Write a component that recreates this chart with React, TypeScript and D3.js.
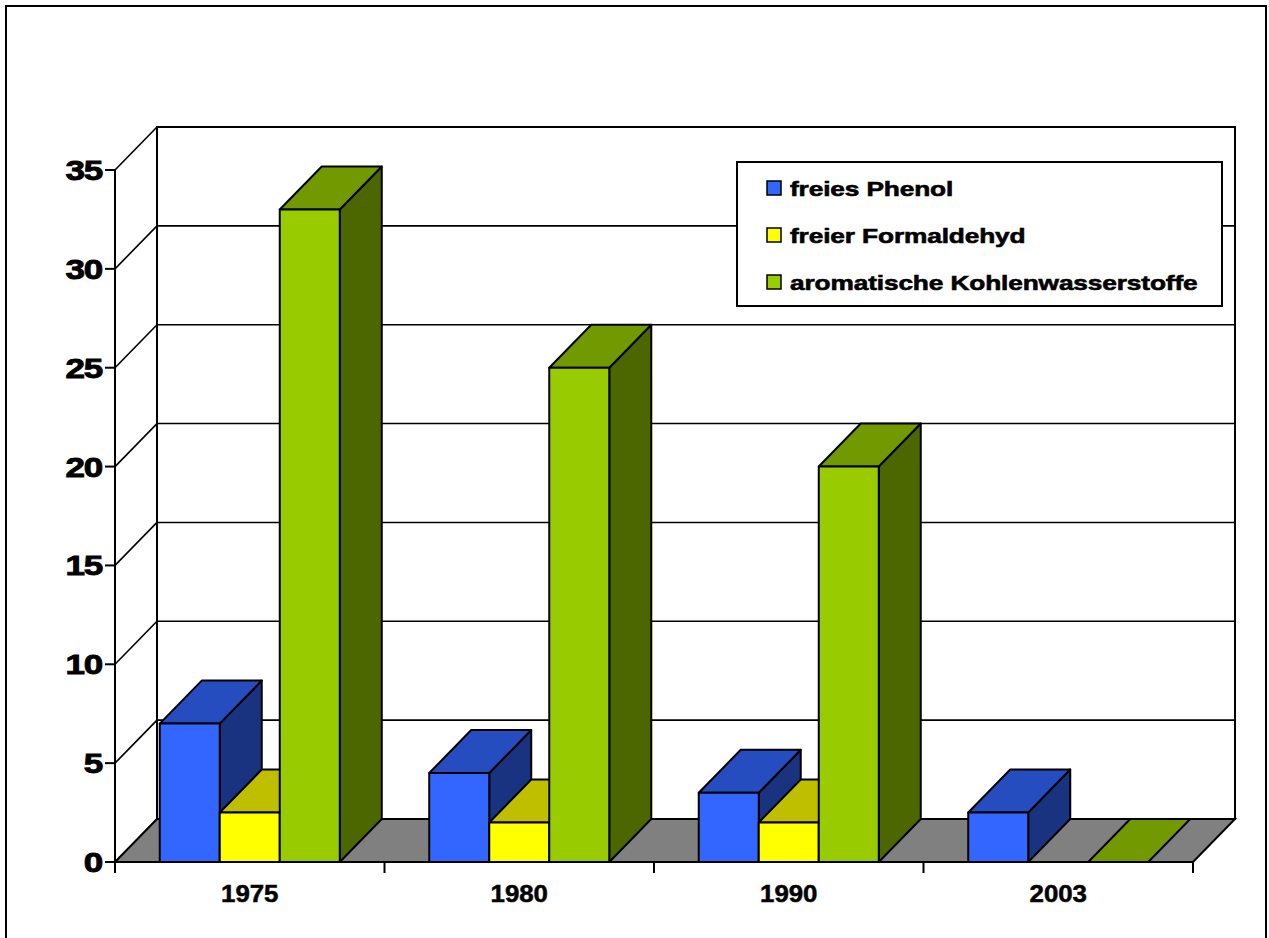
import React from 'react';
import * as d3 from 'd3';

const categories = ['1975', '1980', '1990', '2003'];
const seriesNames = ['freies Phenol', 'freier Formaldehyd', 'aromatische Kohlenwasserstoffe'];
const phenol: (number | null)[] = [7, 4.5, 3.5, 2.5];
const formaldehyd: (number | null)[] = [2.5, 2, 2, null];
const aromaten: (number | null)[] = [33, 25, 20, 0];
const yTicks = [0, 5, 10, 15, 20, 25, 30, 35];

const seriesValues = [phenol, formaldehyd, aromaten];
const frontColors = ['#3366FF', '#FFFF00', '#99CC00'];
const topColors = ['#264DBF', '#BFBF00', '#739900'];
const sideColors = ['#1A3380', '#808000', '#4C6600'];

const W = 1269;
const H = 938;
const X0 = 115;
const X1 = 1193;
const Y0 = 862;
const Y35 = 170;
const DX = 42;
const DY = 43;
const FONT = '"Liberation Sans", Arial, sans-serif';

export default function App() {
  const x = d3.scaleBand<string>().domain(categories).range([X0, X1]).padding(0);
  const y = d3.scaleLinear().domain([0, 35]).range([Y0, Y35]);
  const groupW = x.bandwidth() * 0.668;
  const inner = d3
    .scaleBand<number>()
    .domain(d3.range(seriesValues.length))
    .range([0, groupW])
    .padding(0);

  const bars: JSX.Element[] = [];
  categories.forEach((c, ci) => {
    const gx = (x(c) as number) + (x.bandwidth() - groupW) / 2;
    seriesValues.forEach((vals, si) => {
      const v = vals[ci];
      if (v === null || v === undefined) return;
      const bx = gx + (inner(si) as number);
      const bw = inner.bandwidth();
      const ty = y(v);
      const side = `M${bx + bw},${Y0} L${bx + bw + DX},${Y0 - DY} L${bx + bw + DX},${ty - DY} L${bx + bw},${ty} Z`;
      const top = `M${bx},${ty} L${bx + DX},${ty - DY} L${bx + bw + DX},${ty - DY} L${bx + bw},${ty} Z`;
      bars.push(
        <g key={`${ci}-${si}`} stroke="#000" strokeWidth={2} strokeLinejoin="round">
          {v > 0 && <path d={side} fill={sideColors[si]} />}
          <path d={top} fill={topColors[si]} />
          {v > 0 && <rect x={bx} y={ty} width={bw} height={Y0 - ty} fill={frontColors[si]} />}
        </g>
      );
    });
  });

  const xTicks = [...categories.map((c) => x(c) as number), X1];

  return (
    <div style={{ position: 'absolute', left: 0, top: 0 }}>
      <svg width={W} height={H} style={{ display: 'block', background: '#fff' }}>
        <rect x={6} y={6} width={1260} height={1000} fill="#fff" stroke="#000" strokeWidth={2} />
        {/* back wall */}
        <rect x={X0 + DX} y={Y35 - DY} width={X1 - X0} height={Y0 - Y35} fill="#fff" stroke="#000" strokeWidth={2} />
        {/* gridlines on back and left wall */}
        {yTicks.map((t) => (
          <g key={t} stroke="#000" strokeWidth={1.6}>
            <line x1={X0 + DX} x2={X1 + DX} y1={y(t) - DY} y2={y(t) - DY} />
            <line x1={X0} x2={X0 + DX} y1={y(t)} y2={y(t) - DY} />
          </g>
        ))}
        <line x1={X0 + DX} x2={X0 + DX} y1={Y35 - DY} y2={Y0 - DY} stroke="#000" strokeWidth={2} />
        {/* floor */}
        <path
          d={`M${X0},${Y0} L${X1},${Y0} L${X1 + DX},${Y0 - DY} L${X0 + DX},${Y0 - DY} Z`}
          fill="#808080"
          stroke="#000"
          strokeWidth={2}
        />
        {/* y axis */}
        <line x1={X0} x2={X0} y1={Y35} y2={Y0} stroke="#000" strokeWidth={2} />
        {yTicks.map((t) => (
          <g key={`yt${t}`}>
            <line x1={X0 - 10} x2={X0} y1={y(t)} y2={y(t)} stroke="#000" strokeWidth={2} />
            <text
              transform={`translate(102,${y(t) + 10}) scale(1.25,1)`}
              textAnchor="end"
              fontFamily={FONT}
              fontWeight="bold"
              fontSize={28}
              fill="#000"
              stroke="#000"
              strokeWidth={0.9}
              letterSpacing={-1}
            >
              {t}
            </text>
          </g>
        ))}
        {bars}
        {/* x axis ticks */}
        {xTicks.map((tx, i) => (
          <line key={`xt${i}`} x1={tx} x2={tx} y1={Y0} y2={Y0 + 11} stroke="#000" strokeWidth={2} />
        ))}
        {categories.map((c) => (
          <text
            key={`xl${c}`}
            transform={`translate(${(x(c) as number) + x.bandwidth() / 2},902) scale(1.1,1)`}
            textAnchor="middle"
            fontFamily={FONT}
            fontWeight="bold"
            fontSize={23.5}
            fill="#000"
            stroke="#000"
            strokeWidth={0.5}
          >
            {c}
          </text>
        ))}
        {/* legend */}
        <rect x={737} y={162} width={485} height={144} fill="#fff" stroke="#000" strokeWidth={2} />
        {seriesNames.map((n, i) => (
          <g key={n}>
            <rect x={767} y={181 + i * 47} width={14} height={14} fill={frontColors[i]} stroke="#000" strokeWidth={1.5} />
            <text
              transform={`translate(790,${196 + i * 47}) scale(1.25,1)`}
              fontFamily={FONT}
              fontWeight="bold"
              fontSize={21}
              fill="#000"
              stroke="#000"
              strokeWidth={0.6}
              letterSpacing={-0.1}
            >
              {n}
            </text>
          </g>
        ))}
      </svg>
    </div>
  );
}
